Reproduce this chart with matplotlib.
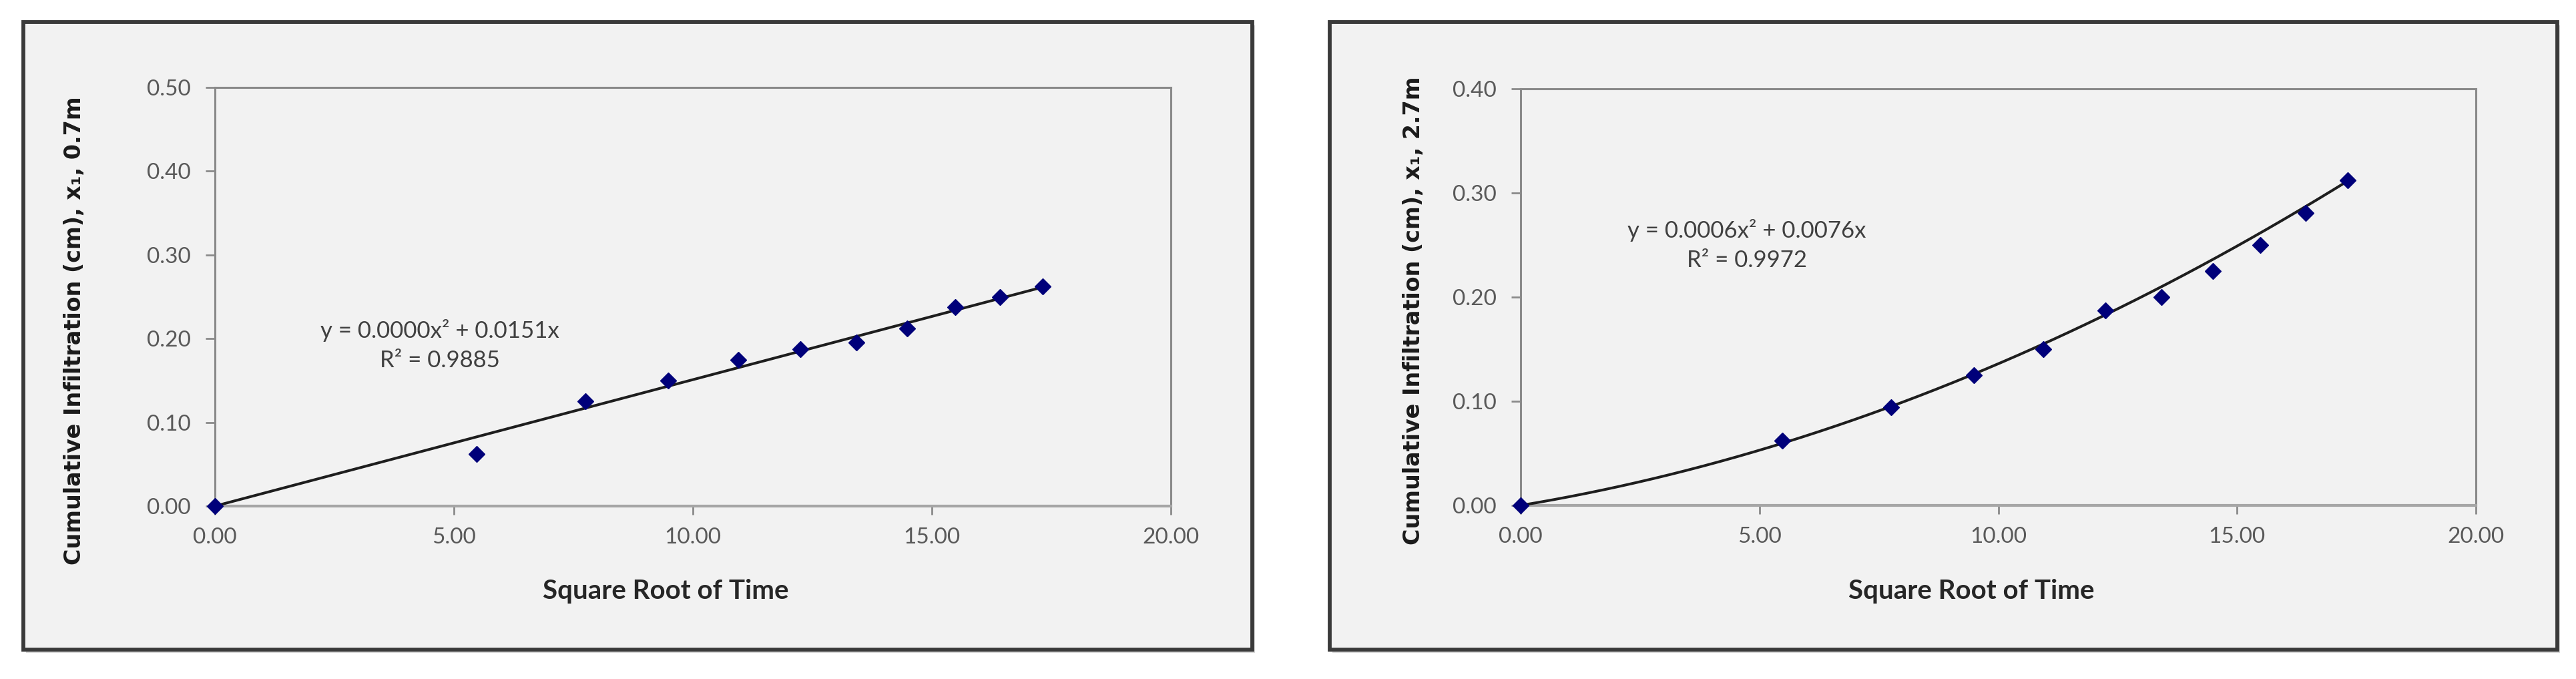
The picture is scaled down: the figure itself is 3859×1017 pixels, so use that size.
import numpy as np
import matplotlib
matplotlib.use("Agg")
import matplotlib.pyplot as plt
from matplotlib.patches import Rectangle

# data
sqrt_time = [0.0, 5.48, 7.75, 9.49, 10.95, 12.25, 13.42, 14.49, 15.49, 16.43, 17.32]
infil_07m = [0.0, 0.0625, 0.125, 0.15, 0.175, 0.1875, 0.195, 0.2125, 0.2375, 0.25, 0.2625]
infil_27m = [0.0, 0.0625, 0.094, 0.125, 0.15, 0.1875, 0.20, 0.225, 0.25, 0.281, 0.3125]

# trendline coefficients (a*x^2 + b*x) shown on the charts
fit_07m = [0.0000, 0.0151]
fit_27m = [0.0006, 0.0076]
eq_07m = ["y = 0.0000x² + 0.0151x", "R² = 0.9885"]
eq_27m = ["y = 0.0006x² + 0.0076x", "R² = 0.9972"]

ylabels = ["Cumulative Infiltration (cm), x₁, 0.7m", "Cumulative Infiltration (cm), x₁, 2.7m"]
xlabel = "Square Root of Time"
x_ticks = [0, 5, 10, 15, 20]
y_ticks_07m = [0.0, 0.1, 0.2, 0.3, 0.4, 0.5]
y_ticks_27m = [0.0, 0.1, 0.2, 0.3, 0.4]

W, H = 3859, 1017
BG = "#f2f2f2"
AXC = "#8a8a8a"
TICKC = "#595959"

fig = plt.figure(figsize=(W / 100, H / 100), dpi=100)
fig.patch.set_facecolor("white")


def px(x0, y0, x1, y1):
    # pixel box (top-left origin) -> figure fraction rect
    return [x0 / W, 1 - y1 / H, (x1 - x0) / W, (y1 - y0) / H]


def draw_panel(box, plot, ydata, fit, eq, eq_pos, ylab, ylab_pos, yticks, xlab_pos):
    # outer chart frame with a soft shadow
    r = px(*box)
    fig.patches.append(Rectangle((r[0] + 4 / W, r[1] - 5 / H), r[2], r[3], transform=fig.transFigure,
                                 facecolor="#d9d9d9", edgecolor="none", zorder=0))
    fig.patches.append(Rectangle((r[0], r[1]), r[2], r[3], transform=fig.transFigure,
                                 facecolor=BG, edgecolor="#3a3a3a", linewidth=4.2, zorder=1))

    ax = fig.add_axes(px(*plot))
    ax.set_facecolor(BG)
    ax.set_zorder(2)

    xs = np.linspace(0, max(sqrt_time), 300)
    ax.plot(xs, fit[0] * xs ** 2 + fit[1] * xs, color="#1e1e1e", lw=2.9, zorder=3, clip_on=False)
    ax.plot(sqrt_time, ydata, linestyle="none", marker="D", ms=12, color="#00007a",
            markeredgecolor="#00007a", zorder=4, clip_on=False)

    ax.set_xlim(0, 20)
    ax.set_ylim(yticks[0], yticks[-1])
    ax.set_xticks(x_ticks)
    ax.set_yticks(yticks)
    ax.set_xticklabels([f"{v:.2f}" for v in x_ticks])
    ax.set_yticklabels([f"{v:.2f}" for v in yticks])
    for s in ax.spines.values():
        s.set_color(AXC)
        s.set_linewidth(2.2)
    ax.spines["bottom"].set_color("#a6a6a6")
    ax.spines["bottom"].set_linewidth(3.0)
    ax.tick_params(axis="y", direction="out", length=10, width=2.0, color=AXC,
                   labelsize=24, labelcolor=TICKC, pad=16)
    ax.tick_params(axis="x", direction="out", length=9, width=2.0, color=AXC,
                   labelsize=24, labelcolor=TICKC, pad=14)
    for lab in ax.get_xticklabels() + ax.get_yticklabels():
        lab.set_family("Lato")

    ax.text(eq_pos[0], eq_pos[1], eq[0], ha="center", va="center", fontsize=25,
            family="Lato", color="#404040")
    ax.text(eq_pos[0], eq_pos[2], eq[1], ha="center", va="center", fontsize=25,
            family="Lato", color="#404040")

    fig.text(ylab_pos[0] / W, 1 - ylab_pos[1] / H, ylab, rotation=90, ha="center", va="center",
             fontsize=24, fontweight="bold", family="DejaVu Sans", color="#1a1a1a")
    fig.text(xlab_pos[0] / W, 1 - xlab_pos[1] / H, xlabel, ha="center", va="center",
             fontsize=29, fontweight="bold", family="Lato", color="#262626")
    return ax


draw_panel((35, 33, 1876, 973), (322, 131, 1754, 758), infil_07m, fit_07m, eq_07m,
           (4.71, 0.2097, 0.1738), ylabels[0], (112, 495), y_ticks_07m, (997, 885))
draw_panel((1992, 33, 3831, 973), (2278, 133, 3709, 757), infil_27m, fit_27m, eq_27m,
           (4.74, 0.2641, 0.2353), ylabels[1], (2117, 465), y_ticks_27m, (2953, 885))

fig.savefig("out.png", dpi=100, facecolor="white")
